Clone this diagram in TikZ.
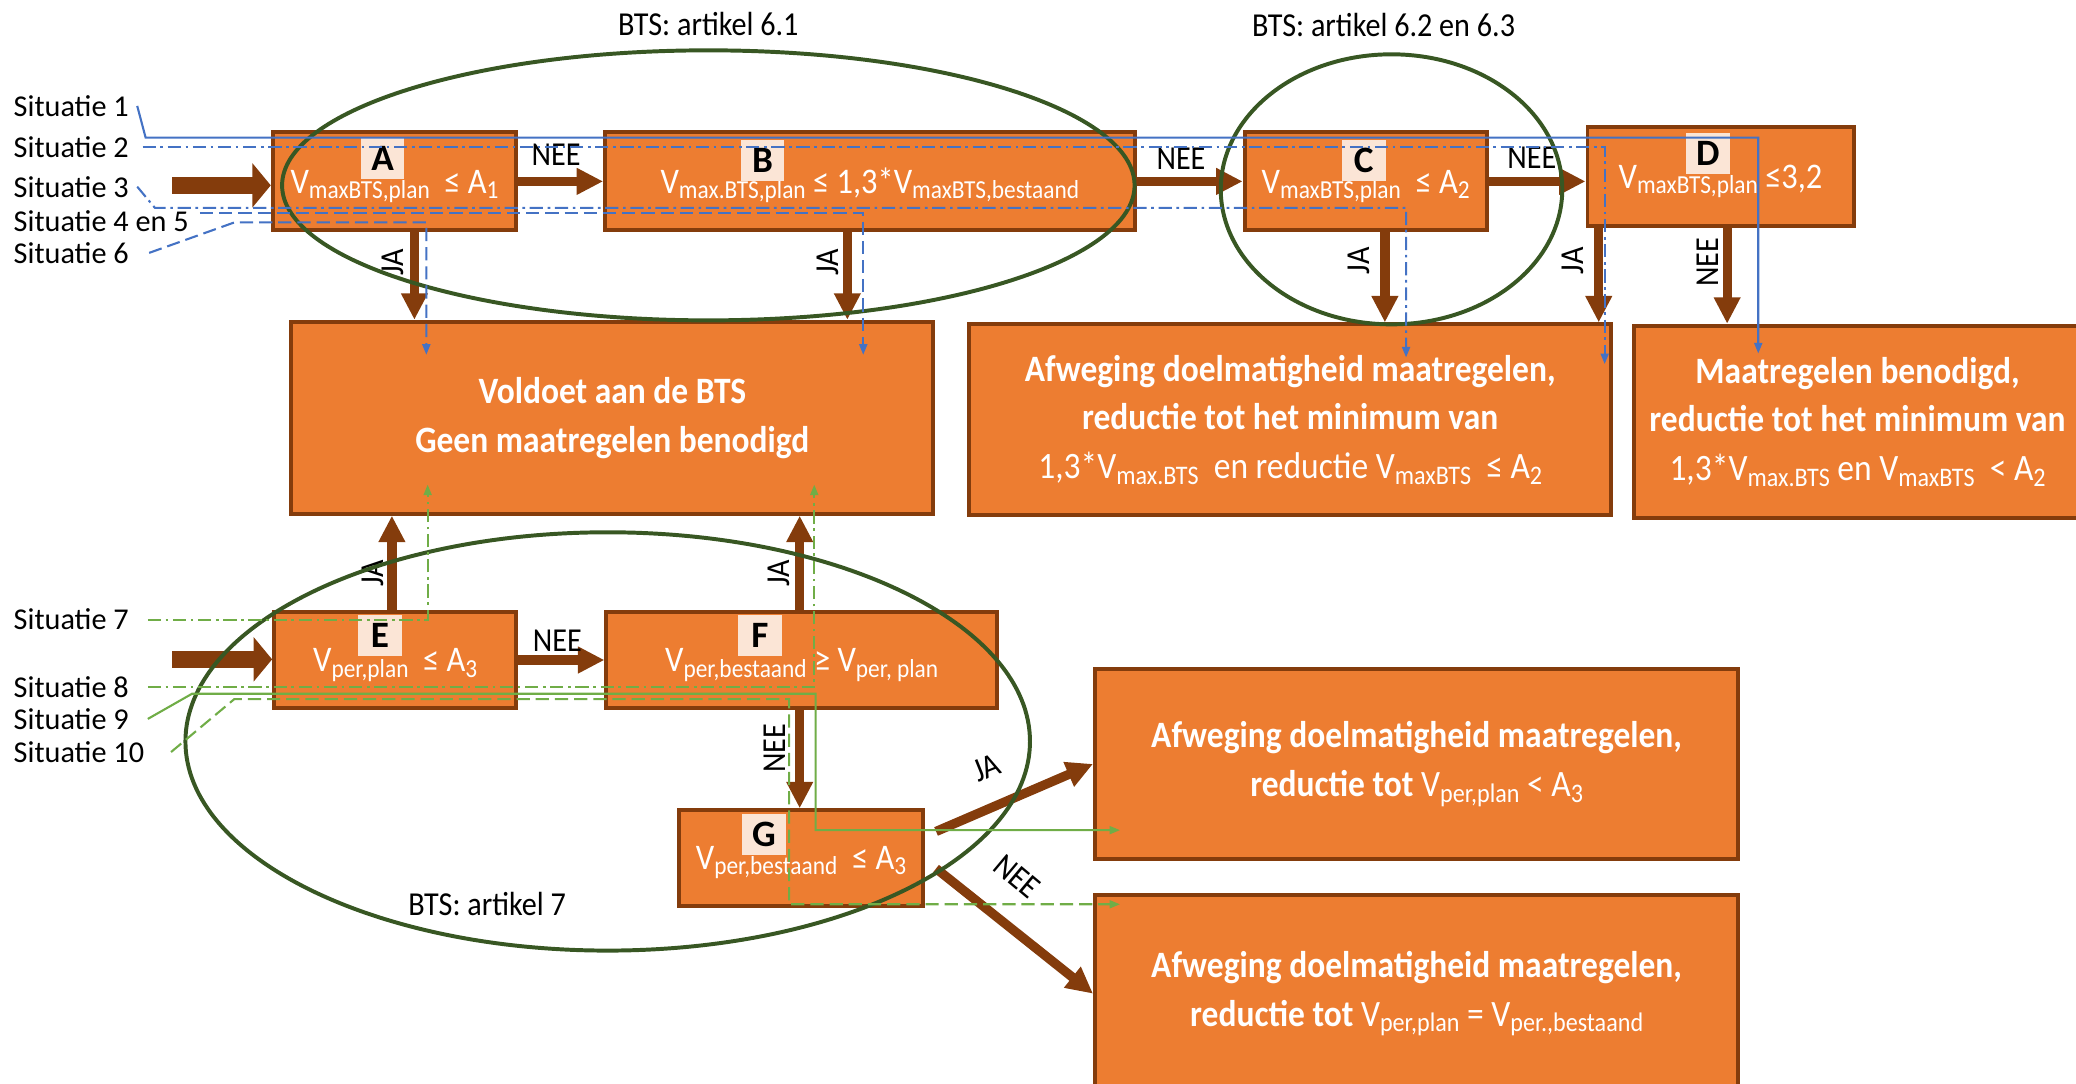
\documentclass[tikz,border=0pt]{standalone}
\usepackage{fontspec}
\setmainfont{Carlito}
\newfontfamily\condfont{Carlito}[FakeStretch=0.9]
\usepackage{tikz}
\usetikzlibrary{positioning,arrows.meta,calc}

\definecolor{boxorange}{HTML}{ED7D31}
\definecolor{boxbrown}{HTML}{843C0C}
\definecolor{tagfill}{HTML}{FBE5D6}
\definecolor{sitblue}{HTML}{4472C4}
\definecolor{sitgreen}{HTML}{70AD47}
\definecolor{zonegreen}{HTML}{385723}

\newcommand{\sbs}[1]{\raisebox{-0.15em}{\scalebox{0.72}{#1}}}

\begin{document}
\begin{tikzpicture}[x=0.02cm, y=-0.02cm,
  every node/.style={font=\condfont\fontsize{14.4}{16}\selectfont},
  flowbox/.style={draw=boxbrown, fill=boxorange, line width=1.7pt, text=white, inner sep=0pt},
  check/.style={flowbox, text height=1em, text depth=0pt, font=\condfont\fontsize{15.5}{18}\selectfont},
  result/.style={flowbox, align=center, font=\condfont\bfseries\fontsize{16}{21}\selectfont},
  lettertag/.style={fill=tagfill, minimum width=0.66cm, minimum height=0.62cm, inner sep=0pt, font=\bfseries\fontsize{16}{18}\selectfont},
  flow/.style={draw=boxbrown, line width=4pt, -{Triangle[length=0.4cm,width=0.38cm]}},
  entry/.style={draw=boxbrown, line width=0.25cm, -{Triangle[length=0.28cm,width=0.66cm]}},
  zone/.style={draw=zonegreen, line width=1.7pt},
  sit/.style={line width=0.9pt, -{Triangle[length=0.16cm,width=0.12cm]}},
  ddline/.style={dash pattern=on 0.2cm off 0.07cm on 0.04cm off 0.07cm},
  dline/.style={dash pattern=on 0.2cm off 0.09cm},
  situ/.style={anchor=west, inner sep=0pt, font=\fontsize{13}{15}\selectfont}]
\useasboundingbox (0,0) rectangle (1568,818);
\clip (0,0) rectangle (1568,818);

% checks of artikel 6
\node[check, minimum width=3.68cm, minimum height=1.48cm] (A) at (298,137) {V\sbs{maxBTS,plan}\ \ ≤ A\sbs{1}};
\node[check, minimum width=8cm, minimum height=1.48cm] (B) at (657,137) {V\sbs{max.BTS,plan} ≤ 1,3*V\sbs{maxBTS,bestaand}};
\node[check, minimum width=3.66cm, minimum height=1.48cm] (C) at (1031.5,137) {V\sbs{maxBTS,plan}\ \ ≤ A\sbs{2}};
\node[check, minimum width=4.02cm, minimum height=1.5cm] (D) at (1299.5,133.5) {V\sbs{maxBTS,plan} ≤3,2};

% outcomes of artikel 6
\node[result, minimum width=9.7cm, minimum height=2.9cm] (Vold) at (462.5,315.5) {Voldoet aan de BTS\\Geen maatregelen benodigd};
\node[result, minimum width=9.7cm, minimum height=2.88cm] (Afw1) at (974.5,317) {Afweging doelmatigheid maatregelen,\\reductie tot het minimum van\\{\mdseries 1,3*V\sbs{max.BTS}\ \ en reductie V\sbs{maxBTS}\ \ ≤ A\sbs{2}}};
\node[result, minimum width=6.76cm, minimum height=2.9cm] (Maat) at (1403,318.5) {Maatregelen benodigd,\\reductie tot het minimum van\\{\mdseries 1,3*V\sbs{max.BTS} en V\sbs{maxBTS}\ \ < A\sbs{2}}};

% checks of artikel 7
\node[check, minimum width=3.66cm, minimum height=1.46cm] (E) at (298.5,498.5) {V\sbs{per,plan}\ \ ≤ A\sbs{3}};
\node[check, minimum width=5.9cm, minimum height=1.46cm] (F) at (605.5,498.5) {V\sbs{per,bestaand} ≥ V\sbs{per, plan}};
\node[check, minimum width=3.68cm, minimum height=1.44cm] (G) at (605,648) {V\sbs{per,bestaand}\ \ ≤ A\sbs{3}};

% outcomes of artikel 7
\node[result, minimum width=9.72cm, minimum height=2.88cm] (AfwJA) at (1070,577) {Afweging doelmatigheid maatregelen,\\reductie tot {\mdseries V\sbs{per,plan} < A\sbs{3}}};
\node[result, minimum width=9.72cm, minimum height=2.98cm] (AfwNEE) at (1070,750.5) {Afweging doelmatigheid maatregelen,\\reductie tot {\mdseries V\sbs{per,plan} = V\sbs{per.,bestaand}}};

% letter tags
\node[lettertag] (tA) at (289,120) {A};
\node[lettertag] (tB) at (576,121) {B};
\node[lettertag] (tC) at (1030,121) {C};
\node[lettertag] (tD) at (1290,116) {D};
\node[lettertag] (tE) at (287,480) {E};
\node[lettertag] (tF) at (574,480) {F};
\node[lettertag] (tG) at (577,630) {G};

% entry arrows
\coordinate (inA) at (130,140);
\coordinate (inE) at (130,498);
\draw[entry] (inA) -- (inA -| A.west);
\draw[entry] (inE) -- (inE -| E.west);

% NEE arrows to the right
\draw[flow] (A.east) -- (B.west);
\draw[flow] (B.east) -- (C.west);
\draw[flow] (C.east) -- (C.east -| D.west);
\draw[flow] (E.east) -- (F.west);
\node (nAB) at (420,117) {NEE};
\node (nBC) at (892,120) {NEE};
\node (nCD) at (1157,119) {NEE};
\node (nEF) at (421,484) {NEE};

% vertical arrows
\coordinate (jA) at ([xshift=0.3cm]A.south);
\coordinate (jB) at ([xshift=-0.34cm]B.south);
\coordinate (jC) at ([xshift=0.29cm]C.south);
\coordinate (jD) at ([xshift=-1.84cm]D.south);
\coordinate (nD) at ([xshift=0.1cm]D.south);
\coordinate (jE) at ([xshift=-0.05cm]E.north);
\coordinate (jF) at ([xshift=-0.03cm]F.north);
\coordinate (nF) at ([xshift=-0.03cm]F.south);
\draw[flow] (jA) -- (jA |- Vold.north);
\draw[flow] (jB) -- (jB |- Vold.north);
\draw[flow] (jC) -- (jC |- Afw1.north);
\draw[flow] (jD) -- (jD |- Afw1.north);
\draw[flow] (nD) -- (nD |- Maat.north);
\draw[flow] (jE) -- (jE |- Vold.south);
\draw[flow] (jF) -- (jF |- Vold.south);
\draw[flow] (nF) -- (nF |- G.north);
\node[rotate=90] (lA) at (297,198) {JA};
\node[rotate=90] (lB) at (625,198) {JA};
\node[rotate=90] (lC) at (1026,197) {JA};
\node[rotate=90] (lD) at (1188,197) {JA};
\node[rotate=90] (lDn) at (1290,198) {NEE};
\node[rotate=90] (lE) at (282,433) {JA};
\node[rotate=90] (lF) at (588,433) {JA};
\node[rotate=90] (lFn) at (585,565) {NEE};

% diagonal arrows from G
\coordinate (gJA) at (707,628);
\coordinate (gNEE) at (707,656);
\draw[flow] (gJA) -- (AfwJA.west);
\draw[flow] (gNEE) -- (AfwNEE.west);
\node[rotate=22, inner sep=1pt] (lGj) at (745,580) {JA};
\node[rotate=-40, inner sep=1pt] (lGn) at (768,662) {NEE};

% BTS zones
\draw[zone] (535,140) ellipse [x radius=6.44cm, y radius=2.04cm];
\draw[zone] (1051,143) ellipse [x radius=2.58cm, y radius=2.04cm];
\draw[zone] (459,560) ellipse [x radius=6.38cm, y radius=3.16cm];
\node (z61) at (535,18) {BTS: artikel 6.1};
\node (z623) at (1045,19) {BTS: artikel 6.2 en 6.3};
\node (z7) at (368,683) {BTS: artikel 7};

% situaties
\node[situ] (s1) at (10,80) {Situatie 1};
\node[situ] (s2) at (10,111) {Situatie 2};
\node[situ] (s3) at (10,141) {Situatie 3};
\node[situ] (s45) at (10,167) {Situatie 4 en 5};
\node[situ] (s6) at (10,191) {Situatie 6};
\node[situ] (s7) at (10,468) {Situatie 7};
\node[situ] (s8) at (10,519) {Situatie 8};
\node[situ] (s9) at (10,543) {Situatie 9};
\node[situ] (s10) at (10,568) {Situatie 10};

\coordinate (m1) at (1328,267);
\coordinate (m2) at (1212,275);
\coordinate (m3) at (1062,270);
\coordinate (p45) at (151,161);
\coordinate (m45) at (652,268);
\coordinate (m6) at (322,268);
\draw[sit, sitblue] ([xshift=0.12cm]s1.east) -- (110,104) -- (1328,104) -- (m1);
\draw[sit, sitblue, ddline] ([xshift=0.2cm]s2.east) -- (1212,111) -- (m2);
\draw[sit, sitblue, ddline] ([xshift=0.12cm]s3.east) -- (117,157) -- (1062,157) -- (m3);
\draw[sit, sitblue, dline] (p45) -- (652,161) -- (m45);
\draw[sit, sitblue, dline] ([xshift=0.3cm]s6.east) -- (177,168) -- (322,168) -- (m6);

\coordinate (g7) at (323,366);
\coordinate (g8) at (615,366);
\coordinate (g9) at (846,627);
\coordinate (g10) at (846,683);
\draw[sit, sitgreen, ddline] ([xshift=0.28cm]s7.east) -- (323,468) -- (g7);
\draw[sit, sitgreen, ddline] ([xshift=0.28cm]s8.east) -- (615,519) -- (g8);
\draw[sit, sitgreen] ([xshift=0.28cm]s9.east) -- (145,524) -- (616,524) -- (616,627) -- (g9);
\draw[sit, sitgreen, dline] ([xshift=0.4cm]s10.east) -- (177,528) -- (596,528) -- (596,683) -- (g10);
\end{tikzpicture}
\end{document}
